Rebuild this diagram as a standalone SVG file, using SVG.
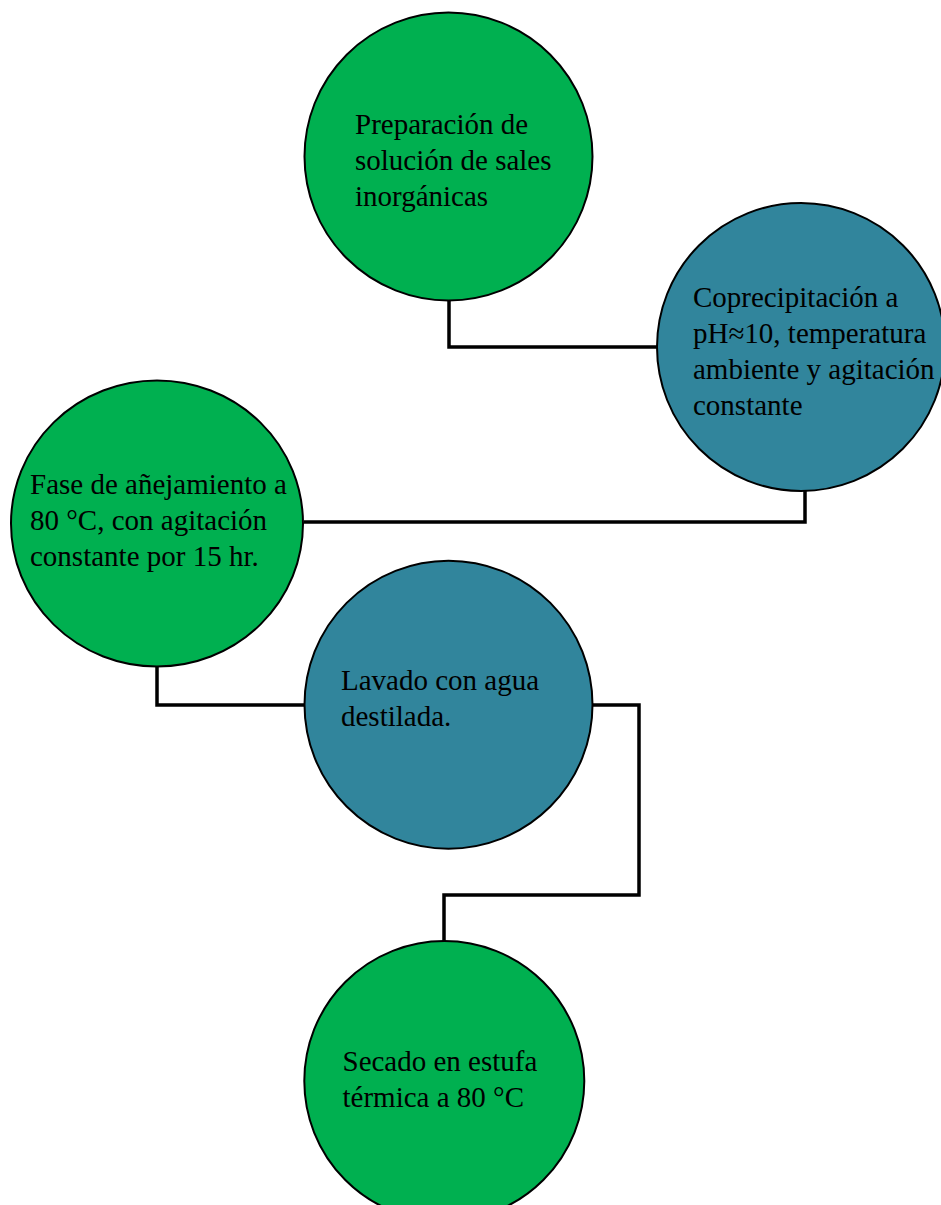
<svg xmlns="http://www.w3.org/2000/svg" width="941" height="1205" viewBox="0 0 941 1205">
<style>
.g{fill:#00B050;stroke:#000;stroke-width:2}
.b{fill:#31859C;stroke:#000;stroke-width:2}
.t{font-family:"Liberation Serif","Times New Roman",serif;font-size:29px;fill:#000}
.c{fill:none;stroke:#000;stroke-width:3.5}
</style>
<rect width="941" height="1205" fill="#fff"/>
<g id="connectors">
<polyline class="c" points="449,300 449,347 657,347"/>
<polyline class="c" points="805,490 805,522 304,522"/>
<polyline class="c" points="157,667 157,705 305,705"/>
<polyline class="c" points="592,705 639,705 639,895 444,895 444,941"/>
</g>
<g id="n1">
<circle class="g" cx="448.5" cy="156.5" r="144"/>
<text class="t"><tspan x="355" y="134">Preparación de</tspan><tspan x="355" y="170">solución de sales</tspan><tspan x="355" y="206">inorgánicas</tspan></text>
</g>
<g id="n2">
<circle class="b" cx="801" cy="347" r="144"/>
<text class="t"><tspan x="693" y="307">Coprecipitación a</tspan><tspan x="693" y="343">pH≈10, temperatura</tspan><tspan x="693" y="379">ambiente y agitación</tspan><tspan x="693" y="415">constante</tspan></text>
</g>
<g id="n3">
<ellipse class="g" cx="157" cy="523.5" rx="146" ry="143"/>
<text class="t"><tspan x="30" y="494">Fase de añejamiento a</tspan><tspan x="30" y="530">80 °C, con agitación</tspan><tspan x="30" y="566">constante por 15 hr.</tspan></text>
</g>
<g id="n4">
<circle class="b" cx="448.5" cy="704.7" r="144"/>
<text class="t"><tspan x="341" y="690">Lavado con agua</tspan><tspan x="341" y="726">destilada.</tspan></text>
</g>
<g id="n5">
<circle class="g" cx="444.3" cy="1081" r="140"/>
<text class="t"><tspan x="342.5" y="1071">Secado en estufa</tspan><tspan x="342.5" y="1107">térmica a 80 °C</tspan></text>
</g>
</svg>
